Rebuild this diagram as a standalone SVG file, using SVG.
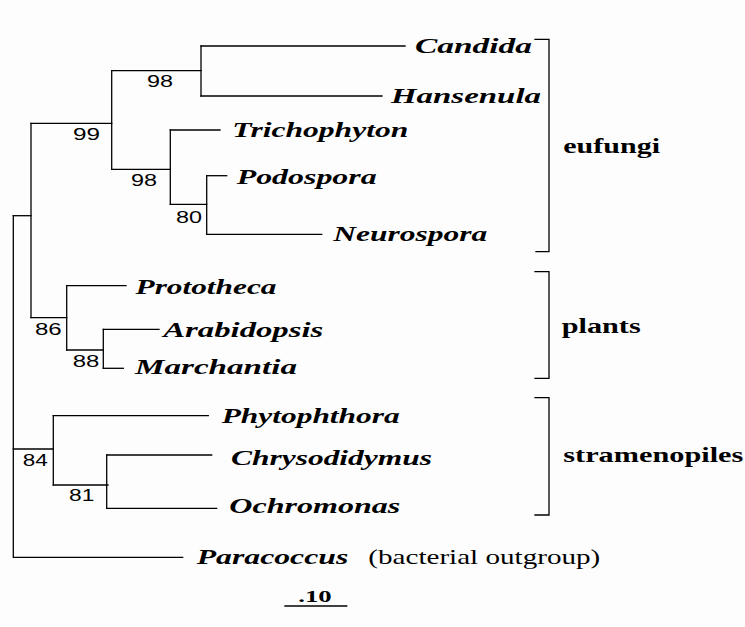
<svg xmlns="http://www.w3.org/2000/svg" width="745" height="627" viewBox="0 0 745 627">
<style>
.br{fill:none;stroke:#000;stroke-width:1.3;stroke-linecap:square}
.sp{font-family:"Liberation Serif","Times New Roman",serif;font-weight:bold;font-style:italic;font-size:20px;fill:#000}
.grp{font-family:"Liberation Serif","Times New Roman",serif;font-weight:bold;font-size:21px;fill:#000}
.bs{font-family:"Liberation Sans",Arial,sans-serif;font-size:16px;fill:#000}
.reg{font-family:"Liberation Serif","Times New Roman",serif;font-size:21px;fill:#000}
.sc{font-family:"Liberation Serif","Times New Roman",serif;font-weight:bold;font-size:16px;fill:#000}
</style>
<rect width="745" height="627" fill="#fdfdfd"/>
<g id="connectors" class="br">
<path d="M13.3,215.7V557.3H182.7"/>
<path d="M13.3,215.7H31"/>
<path d="M31,123.3V317.7"/>
<path d="M31,123.3H111.7"/>
<path d="M111.7,70.7V169.3"/>
<path d="M111.7,70.7H201"/>
<path d="M201,46V96"/>
<path d="M201,46H405"/>
<path d="M201,96H382"/>
<path d="M111.7,169.3H170.3"/>
<path d="M170.3,130V204.3"/>
<path d="M170.3,130H220"/>
<path d="M170.3,204.3H206.7"/>
<path d="M206.7,175.7V234.3"/>
<path d="M206.7,175.7H226.7"/>
<path d="M206.7,234.3H321.7"/>
<path d="M31,317.7H66.7"/>
<path d="M66.7,285.7V350"/>
<path d="M66.7,285.7H126"/>
<path d="M66.7,350H103.3"/>
<path d="M103.3,329.3V368.3"/>
<path d="M103.3,329.3H159"/>
<path d="M103.3,368.3H123.3"/>
<path d="M13.3,449H53.3"/>
<path d="M53.3,415.7V485"/>
<path d="M53.3,415.7H208.3"/>
<path d="M53.3,485H108"/>
<path d="M106.7,455V508.3"/>
<path d="M106.7,455H211.7"/>
<path d="M106.7,508.3H216.7"/>
</g>
<g id="bootstrap">
<text class="bs" x="147" y="86.7" textLength="26" lengthAdjust="spacingAndGlyphs">98</text>
<text class="bs" x="73" y="140" textLength="27" lengthAdjust="spacingAndGlyphs">99</text>
<text class="bs" x="131" y="186" textLength="26" lengthAdjust="spacingAndGlyphs">98</text>
<text class="bs" x="176" y="222.7" textLength="26" lengthAdjust="spacingAndGlyphs">80</text>
<text class="bs" x="35" y="335" textLength="26.7" lengthAdjust="spacingAndGlyphs">86</text>
<text class="bs" x="72.7" y="367.3" textLength="26.6" lengthAdjust="spacingAndGlyphs">88</text>
<text class="bs" x="22.7" y="466" textLength="25" lengthAdjust="spacingAndGlyphs">84</text>
<text class="bs" x="69" y="501" textLength="25.3" lengthAdjust="spacingAndGlyphs">81</text>
</g>
<g id="candida"><text class="sp" x="415" y="53.3" textLength="117" lengthAdjust="spacingAndGlyphs">Candida</text></g>
<g id="hansenula"><text class="sp" x="391" y="103" textLength="150" lengthAdjust="spacingAndGlyphs">Hansenula</text></g>
<g id="trichophyton"><text class="sp" x="232.3" y="136.7" textLength="176" lengthAdjust="spacingAndGlyphs">Trichophyton</text></g>
<g id="podospora"><text class="sp" x="236.7" y="184" textLength="140" lengthAdjust="spacingAndGlyphs">Podospora</text></g>
<g id="neurospora"><text class="sp" x="333.3" y="240.5" textLength="154" lengthAdjust="spacingAndGlyphs">Neurospora</text></g>
<g id="prototheca"><text class="sp" x="135.5" y="294" textLength="141" lengthAdjust="spacingAndGlyphs">Prototheca</text></g>
<g id="arabidopsis"><text class="sp" x="163.3" y="336.7" textLength="160" lengthAdjust="spacingAndGlyphs">Arabidopsis</text></g>
<g id="marchantia"><text class="sp" x="135" y="374" textLength="162" lengthAdjust="spacingAndGlyphs">Marchantia</text></g>
<g id="phytophthora"><text class="sp" x="221.7" y="422.7" textLength="178" lengthAdjust="spacingAndGlyphs">Phytophthora</text></g>
<g id="chrysodidymus"><text class="sp" x="231" y="465" textLength="201" lengthAdjust="spacingAndGlyphs">Chrysodidymus</text></g>
<g id="ochromonas"><text class="sp" x="229.3" y="513" textLength="171" lengthAdjust="spacingAndGlyphs">Ochromonas</text></g>
<g id="paracoccus">
<text class="sp" x="196.7" y="563.5" textLength="151.6" lengthAdjust="spacingAndGlyphs">Paracoccus</text>
<text class="reg" x="368.3" y="563.5" textLength="232" lengthAdjust="spacingAndGlyphs">(bacterial outgroup)</text>
</g>
<g id="eufungi">
<polyline class="br" points="535,39.3 549,39.3 549,251.7 536,251.7"/>
<text class="grp" x="563.3" y="153.3" textLength="96.7" lengthAdjust="spacingAndGlyphs">eufungi</text>
</g>
<g id="plants">
<polyline class="br" points="535,271.7 549,271.7 549,378.3 535,378.3"/>
<text class="grp" x="561.7" y="333" textLength="79" lengthAdjust="spacingAndGlyphs">plants</text>
</g>
<g id="stramenopiles">
<polyline class="br" points="535,397.7 549,397.7 549,515 535,515"/>
<text class="grp" x="563.3" y="461.7" textLength="180" lengthAdjust="spacingAndGlyphs">stramenopiles</text>
</g>
<g id="scalebar">
<path class="br" d="M285,606H346.7" stroke-width="1.8"/>
<text class="sc" x="298.3" y="601.7" textLength="33.4" lengthAdjust="spacingAndGlyphs">.10</text>
</g>
</svg>
